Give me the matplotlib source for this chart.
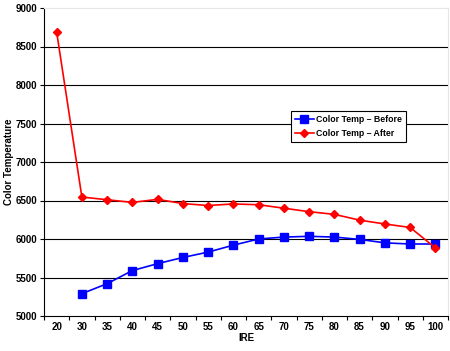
import matplotlib
matplotlib.use("Agg")
import matplotlib.pyplot as plt
import numpy as np

# IRE levels on a category axis
ire = ["20", "30", "35", "40", "45", "50", "55", "60", "65", "70", "75", "80", "85", "90", "95", "100"]
before = [None, 5290, 5420, 5590, 5680, 5760, 5830, 5920, 6000, 6025, 6035, 6025, 5995, 5950, 5935, 5935]
after = [8690, 6545, 6510, 6475, 6515, 6460, 6435, 6455, 6445, 6400, 6355, 6320, 6245, 6195, 6150, 5885]
yticks = [5000, 5500, 6000, 6500, 7000, 7500, 8000, 8500, 9000]

plt.rcParams['font.family'] = ['Liberation Sans', 'DejaVu Sans']

fig = plt.figure(figsize=(4.5, 3.51), dpi=100)
ax = fig.add_axes([44 / 450, 1 - 316 / 351, 404 / 450, 308 / 351])

x = np.arange(len(ire))
xb = [i for i, v in zip(x, before) if v is not None]
yb = [v for v in before if v is not None]

ax.plot(xb, yb, color="#0000ff", lw=1.2, marker="s", markersize=5.2,
        label="Color Temp \u2013 Before", zorder=3)
ax.plot(x, after, color="#ff0000", lw=1.2, marker="D", markersize=3.6,
        label="Color Temp \u2013 After", zorder=3)

ax.set_xlim(-0.5, len(ire) - 0.5)
ax.set_ylim(5000, 9000)
ax.set_yticks(yticks)
ax.set_yticklabels([str(t) for t in yticks], fontsize=7, fontweight="bold")
ax.set_xticks(x)
ax.set_xticklabels(ire, fontsize=7, fontweight="bold")
ax.set_xticks(np.arange(-0.5, len(ire), 1), minor=True)
ax.tick_params(axis="x", which="major", length=0, pad=4)
ax.tick_params(axis="x", which="minor", length=3, width=0.8, direction="out")
ax.tick_params(axis="y", length=3, width=0.8, pad=2)

for t in yticks[1:-1]:
    ax.axhline(t, color="black", lw=0.8, zorder=1)

ax.spines["left"].set_color("black")
ax.spines["bottom"].set_color("black")
ax.spines["top"].set_color("#e6e6e6")
ax.spines["right"].set_color("#e6e6e6")

ax.set_xlabel("IRE", fontsize=7, fontweight="bold", labelpad=1)
ax.set_ylabel("Color Temperature", fontsize=7, fontweight="bold")
ax.yaxis.set_label_coords(-0.074, 0.5)

leg = ax.legend(loc="upper left", bbox_to_anchor=(0.611, 0.665),
                prop={"weight": "bold", "size": 6.3}, frameon=True, fancybox=False,
                shadow=False, handlelength=2.2, handletextpad=0.2, borderpad=0.45,
                labelspacing=0.55, borderaxespad=0)
leg.get_frame().set_edgecolor("black")
leg.get_frame().set_linewidth(0.8)
leg.get_frame().set_alpha(1)

fig.savefig("out.png", dpi=100)
